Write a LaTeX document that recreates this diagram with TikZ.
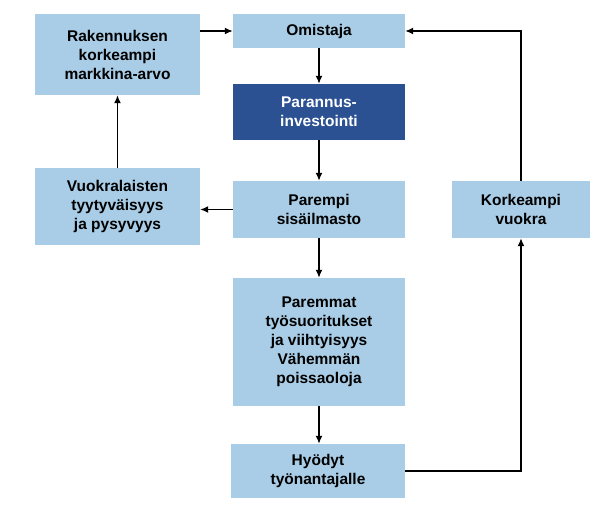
\documentclass[tikz,border=0pt]{standalone}
\usepackage{fontspec}
\setmainfont{Liberation Sans}
\usetikzlibrary{arrows.meta}
\definecolor{lb}{HTML}{A9CDE6}
\definecolor{db}{HTML}{2C5192}
\tikzset{
 box/.style={fill=lb,draw=none,font=\bfseries\fontsize{15.5}{19}\selectfont,align=center,inner sep=0pt},
 dark/.style={box,fill=db,text=white},
 arr/.style={-{Latex[length=8pt,width=7pt]},line width=1.4pt,black}
}
\begin{document}
\begin{tikzpicture}[x=1pt,y=-1pt]
\useasboundingbox (0,0) rectangle (616,511);
\node[box,minimum width=165,minimum height=81] (rak) at (117.5,54.5) {Rakennuksen\\korkeampi\\markkina-arvo};
\node[box,minimum width=172,minimum height=34] (om) at (319,31) {Omistaja};
\node[dark,minimum width=172,minimum height=56] (par) at (319,112) {Parannus-\\investointi};
\node[box,minimum width=172,minimum height=57] (sis) at (319,209.5) {Parempi\\sisäilmasto};
\node[box,minimum width=165,minimum height=77] (vuo) at (117.5,206.5) {Vuokralaisten\\tyytyväisyys\\ja pysyvyys};
\node[box,minimum width=138,minimum height=57] (kor) at (521,209.5) {Korkeampi\\vuokra};
\node[box,minimum width=172,minimum height=128] (pam) at (319,342) {Paremmat\\työsuoritukset\\ja viihtyisyys\\Vähemmän\\poissaoloja};
\node[box,minimum width=174,minimum height=54] (hyo) at (318,471) {Hyödyt\\työnantajalle};
\draw[arr] (rak.east|-om) -- (om.west);
\draw[arr] (om) -- (par);
\draw[arr] (par) -- (sis);
\draw[arr] (sis.west) -- (vuo.east|-sis.west);
\draw[arr] (vuo.north) -- (rak.south);
\draw[arr] (sis) -- (pam);
\draw[arr] (pam.south) -- (pam.south|-hyo.north);
\draw[arr] (hyo.east) -| (kor.south);
\draw[arr] (kor.north) |- (om.east);
\end{tikzpicture}
\end{document}
